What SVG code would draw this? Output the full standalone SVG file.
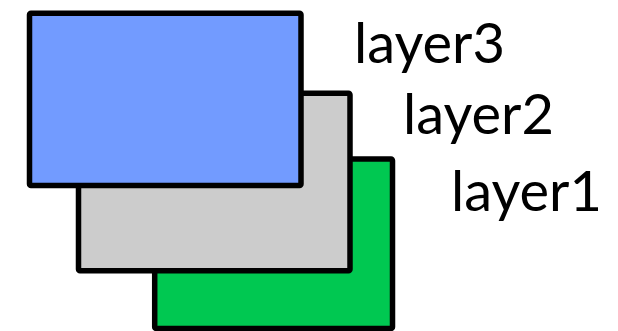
<svg xmlns="http://www.w3.org/2000/svg" width="618" height="331" viewBox="0 0 618 331">
<style>
.box{stroke:#000;stroke-width:5.5;stroke-linejoin:round}
.lbl{font-family:Lato,"Open Sans",sans-serif;font-size:56px;fill:#000}
</style>
<rect width="618" height="331" fill="#fff"/>
<g id="layer1">
<rect class="box" x="154.7" y="159" width="237.8" height="169.5" rx="1.5" fill="#00c851"/>
<text class="lbl" x="451" y="211">layer1</text>
</g>
<g id="layer2">
<rect class="box" x="78.5" y="93.2" width="271.5" height="177.6" rx="1.5" fill="#cccccc"/>
<text class="lbl" x="403" y="134">layer2</text>
</g>
<g id="layer3">
<rect class="box" x="29.5" y="13.3" width="271.5" height="172.2" rx="1.5" fill="#729bff"/>
<text class="lbl" x="354" y="63">layer3</text>
</g>
<g id="connectors"/>
</svg>
